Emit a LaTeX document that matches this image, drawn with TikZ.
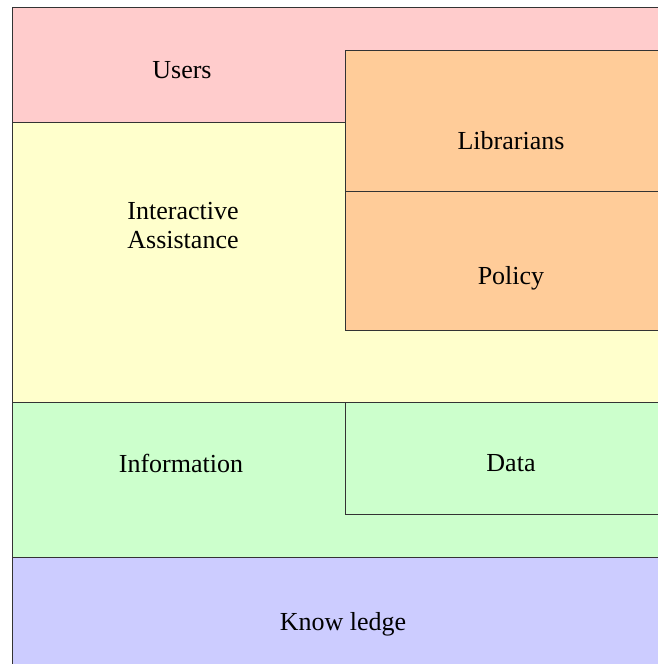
\documentclass[tikz,border=0pt]{standalone}
\usepackage{fontspec}
\setmainfont{Liberation Serif}
\newfontfamily\lblfont{Liberation Serif}
\definecolor{cpink}{HTML}{FFCCCC}
\definecolor{cyellow}{HTML}{FFFFCC}
\definecolor{corange}{HTML}{FFCC99}
\definecolor{cgreen}{HTML}{CCFFCC}
\definecolor{cblue}{HTML}{CCCCFF}
\definecolor{cline}{HTML}{333333}
\begin{document}
\begin{tikzpicture}[x=1pt,y=-1pt,
  band/.style={draw=cline,line width=1pt},
  lbl/.style={font=\lblfont\fontsize{26}{29}\selectfont,inner sep=0pt,align=center}]
\useasboundingbox (0,0) rectangle (658,664);
\clip (0,0) rectangle (658,664);
\fill[white] (0,0) rectangle (658,664);
% bands
\filldraw[band,fill=cpink] (680,7) -- (12,7) -- (12,122) -- (680,122);
\filldraw[band,fill=cyellow] (680,122) -- (12,122) -- (12,402) -- (680,402);
\filldraw[band,fill=corange] (680,50) -- (345,50) -- (345,330) -- (680,330);
\draw[band] (345,191) -- (680,191);
\filldraw[band,fill=cgreen] (680,402) -- (12,402) -- (12,557) -- (680,557);
\draw[band] (345,402) -- (345,514) -- (680,514);
\filldraw[band,fill=cblue] (680,557) -- (12,557) -- (12,680) -- (680,680);
% labels
\node[lbl] (users) at (182,70) {Users};
\node[lbl] (librarians) at (511,141) {Librarians};
\node[lbl] (ia) at (183,226) {Interactive\\Assistance};
\node[lbl] (policy) at (511,278) {Policy};
\node[lbl] (information) at (181,463) {Information};
\node[lbl] (data) at (511,463) {Data};
\node[lbl] (knowledge) at (343,624) {Know ledge};
\end{tikzpicture}
\end{document}
